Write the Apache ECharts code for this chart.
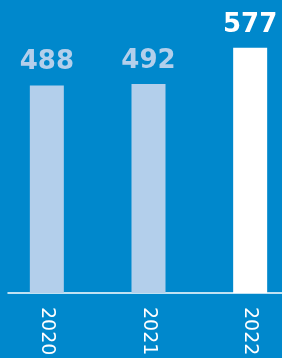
<!DOCTYPE html>
<html>
<head>
<meta charset="utf-8">
<script src="https://cdn.jsdelivr.net/npm/echarts@6/dist/echarts.min.js"></script>
<style>
  html, body { margin: 0; padding: 0; background: #0088cc; }
  #chart { width: 282px; height: 358px; }
</style>
</head>
<body>
<div id="chart"></div>
<script>
var years = ['2020', '2021', '2022'];
var values = [488, 492, 577];
var barColors = ['#b3cfeb', '#b3cfeb', '#ffffff'];

var chart = echarts.init(document.getElementById('chart'));

chart.setOption({
    backgroundColor: '#0088cc',
    animation: false,
    grid: [
        { left: -4, width: 305, top: 38, bottom: 65, outerBoundsMode: 'none' },
        // only carries the baseline, which starts a little in from the left edge
        { left: 8, right: 0, top: 38, bottom: 65, outerBoundsMode: 'none' }
    ],
    xAxis: [{
        type: 'category',
        gridIndex: 0,
        data: years,
        axisLine: { show: false },
        axisTick: { show: false },
        axisLabel: {
            rotate: -90,
            margin: 14,
            color: '#ffffff',
            fontFamily: 'DejaVu Sans',
            fontSize: 19
        }
    }, {
        type: 'value',
        gridIndex: 1,
        min: 0,
        max: 1,
        axisLine: { show: true, lineStyle: { color: '#ffffff', width: 1.5 } },
        axisTick: { show: false },
        axisLabel: { show: false },
        splitLine: { show: false }
    }],
    yAxis: [{
        type: 'value',
        gridIndex: 0,
        min: 0,
        max: 600,
        show: false
    }, {
        type: 'value',
        gridIndex: 1,
        show: false
    }],
    series: [{
        type: 'bar',
        xAxisIndex: 0,
        yAxisIndex: 0,
        barWidth: 34,
        data: values.map(function (v, i) {
            return {
                value: v,
                itemStyle: { color: barColors[i] },
                label: { color: barColors[i] }
            };
        }),
        label: {
            show: true,
            position: 'top',
            distance: 10,
            fontFamily: 'DejaVu Sans',
            fontWeight: 'bold',
            fontSize: 26
        }
    }]
});
</script>
</body>
</html>
